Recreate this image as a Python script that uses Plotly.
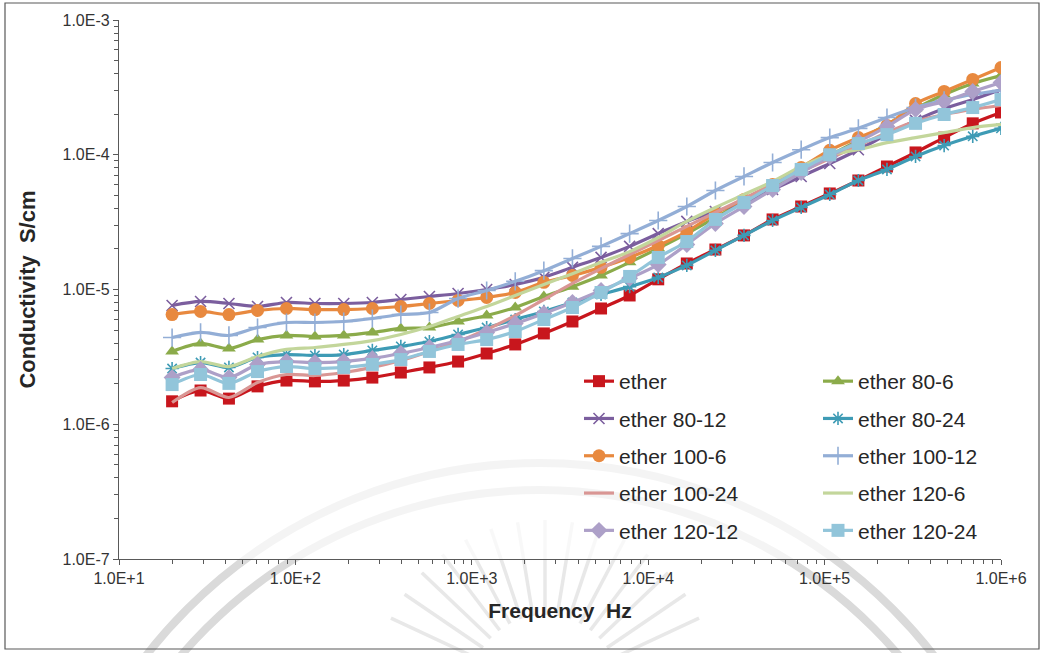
import math
import plotly.graph_objects as go

# Measurement frequencies (Hz), logarithmic sweep
freq = [20, 29, 42, 61, 89, 129, 188, 273, 396, 575, 836, 1214, 1763, 2561, 3720,
        5403, 7847, 11397, 16553, 24042, 34919, 50716, 73661, 106986, 155387,
        225685, 327787, 476084, 691469, 1000000]

# Conductivity (S/cm) for each sample
ether = [1.48e-6, 1.78e-6, 1.55e-6, 1.91e-6, 2.11e-6, 2.08e-6, 2.11e-6, 2.22e-6, 2.42e-6, 2.64e-6,
         2.92e-6, 3.35e-6, 3.91e-6, 4.72e-6, 5.79e-6, 7.23e-6, 9.03e-6, 1.19e-5, 1.56e-5, 1.98e-5,
         2.52e-5, 3.31e-5, 4.13e-5, 5.16e-5, 6.44e-5, 8.18e-5, 1.04e-4, 1.34e-4, 1.71e-4, 2.06e-4]
ether_80_6 = [3.47e-6, 3.98e-6, 3.65e-6, 4.25e-6, 4.56e-6, 4.48e-6, 4.56e-6, 4.80e-6, 5.14e-6, 5.22e-6,
              5.79e-6, 6.41e-6, 7.35e-6, 8.87e-6, 1.05e-5, 1.27e-5, 1.59e-5, 2.02e-5, 2.60e-5, 3.42e-5,
              4.50e-5, 5.81e-5, 7.64e-5, 9.87e-5, 1.28e-4, 1.68e-4, 2.20e-4, 2.80e-4, 3.38e-4, 3.87e-4]
ether_80_12 = [7.61e-6, 8.15e-6, 7.87e-6, 7.48e-6, 8.01e-6, 7.87e-6, 7.87e-6, 8.01e-6, 8.43e-6, 8.87e-6,
               9.34e-6, 1.00e-5, 1.09e-5, 1.23e-5, 1.46e-5, 1.73e-5, 2.09e-5, 2.60e-5, 3.20e-5, 3.79e-5,
               4.42e-5, 5.52e-5, 6.90e-5, 8.61e-5, 1.09e-4, 1.41e-4, 1.80e-4, 2.20e-4, 2.57e-4, 3.05e-4]
ether_80_24 = [2.59e-6, 2.87e-6, 2.64e-6, 3.13e-6, 3.29e-6, 3.24e-6, 3.29e-6, 3.53e-6, 3.78e-6, 4.11e-6,
               4.64e-6, 5.22e-6, 5.99e-6, 6.87e-6, 8.01e-6, 9.18e-6, 1.05e-5, 1.23e-5, 1.51e-5, 1.95e-5,
               2.52e-5, 3.25e-5, 4.06e-5, 5.07e-5, 6.44e-5, 7.78e-5, 9.71e-5, 1.17e-4, 1.37e-4, 1.57e-4]
ether_100_6 = [6.52e-6, 6.87e-6, 6.52e-6, 6.99e-6, 7.23e-6, 7.10e-6, 7.10e-6, 7.23e-6, 7.48e-6, 7.87e-6,
               8.29e-6, 8.72e-6, 9.50e-6, 1.13e-5, 1.27e-5, 1.46e-5, 1.73e-5, 2.12e-5, 2.69e-5, 3.66e-5,
               4.66e-5, 6.02e-5, 8.04e-5, 1.08e-4, 1.34e-4, 1.65e-4, 2.40e-4, 2.95e-4, 3.62e-4, 4.44e-4]
ether_100_12 = [4.40e-6, 4.80e-6, 4.56e-6, 5.22e-6, 5.69e-6, 5.69e-6, 5.79e-6, 6.09e-6, 6.52e-6, 6.75e-6,
                8.57e-6, 9.83e-6, 1.15e-5, 1.38e-5, 1.70e-5, 2.09e-5, 2.60e-5, 3.25e-5, 4.13e-5, 5.43e-5,
                6.90e-5, 8.76e-5, 1.09e-4, 1.34e-4, 1.57e-4, 1.89e-4, 2.24e-4, 2.53e-4, 2.80e-4, 3.00e-4]
ether_100_24 = [1.45e-6, 1.87e-6, 1.58e-6, 2.04e-6, 2.34e-6, 2.30e-6, 2.42e-6, 2.64e-6, 2.97e-6, 3.47e-6,
                4.11e-6, 5.05e-6, 6.41e-6, 8.43e-6, 1.11e-5, 1.43e-5, 1.82e-5, 2.31e-5, 2.94e-5, 3.73e-5,
                4.73e-5, 6.02e-5, 7.51e-5, 9.38e-5, 1.17e-4, 1.46e-4, 1.77e-4, 1.99e-4, 2.17e-4, 2.32e-4]
ether_120_6 = [2.59e-6, 2.92e-6, 2.68e-6, 3.18e-6, 3.59e-6, 3.71e-6, 3.91e-6, 4.18e-6, 4.64e-6, 5.31e-6,
               6.31e-6, 7.48e-6, 9.03e-6, 1.09e-5, 1.31e-5, 1.59e-5, 1.91e-5, 2.43e-5, 3.20e-5, 4.06e-5,
               5.07e-5, 6.33e-5, 8.18e-5, 1.00e-4, 1.09e-4, 1.23e-4, 1.34e-4, 1.46e-4, 1.59e-4, 1.68e-4]
ether_120_12 = [2.22e-6, 2.55e-6, 2.22e-6, 2.78e-6, 2.92e-6, 2.87e-6, 2.92e-6, 3.08e-6, 3.35e-6, 3.71e-6,
                4.18e-6, 4.80e-6, 5.59e-6, 6.64e-6, 8.01e-6, 9.83e-6, 1.21e-5, 1.53e-5, 2.16e-5, 3.09e-5,
                4.13e-5, 5.52e-5, 7.38e-5, 9.71e-5, 1.25e-4, 1.62e-4, 2.17e-4, 2.49e-4, 2.95e-4, 3.44e-4]
ether_120_24 = [1.97e-6, 2.34e-6, 2.01e-6, 2.46e-6, 2.68e-6, 2.59e-6, 2.64e-6, 2.78e-6, 3.02e-6, 3.47e-6,
                3.91e-6, 4.25e-6, 4.88e-6, 5.99e-6, 7.35e-6, 9.50e-6, 1.25e-5, 1.73e-5, 2.27e-5, 3.31e-5,
                4.42e-5, 5.91e-5, 7.78e-5, 1.00e-4, 1.21e-4, 1.41e-4, 1.71e-4, 1.99e-4, 2.24e-4, 2.57e-4]

names = ["ether", "ether 80-6", "ether 80-12", "ether 80-24", "ether 100-6",
         "ether 100-12", "ether 100-24", "ether 120-6", "ether 120-12", "ether 120-24"]
values = [ether, ether_80_6, ether_80_12, ether_80_24, ether_100_6,
          ether_100_12, ether_100_24, ether_120_6, ether_120_12, ether_120_24]

x_tick_vals = [1e1, 1e2, 1e3, 1e4, 1e5, 1e6]
x_tick_text = ["1.0E+1", "1.0E+2", "1.0E+3", "1.0E+4", "1.0E+5", "1.0E+6"]
y_tick_vals = [1e-7, 1e-6, 1e-5, 1e-4, 1e-3]
y_tick_text = ["1.0E-7", "1.0E-6", "1.0E-5", "1.0E-4", "1.0E-3"]

# Series styling: colour, marker symbol, marker size, whether markers are shown
styles = [
    ("#C8161D", "square", 12, True),
    ("#8BAB4A", "triangle-up", 12, True),
    ("#7B5E9E", "x-thin", 11, True),
    ("#3E9BB5", "asterisk", 11, True),
    ("#E8893F", "circle", 13, True),
    ("#93AED6", "cross-thin", 13, True),
    ("#D99694", "circle", 1, False),
    ("#C3D69B", "circle", 1, False),
    ("#ADA0C8", "diamond", 13, True),
    ("#92C5DA", "square", 13, True),
]

FONT = "Liberation Sans, Arial, sans-serif"

# Page geometry (px) used to place the decorative background in paper units
W, H = 1043, 653
ML, MR, MT, MB = 119, 42, 20, 94
PW, PH = W - ML - MR, H - MT - MB


def px_x(px):
    return (px - ML) / PW


def px_y(py):
    return (H - MB - py) / PH


fig = go.Figure()
for i, (name, vals, (color, symbol, size, show_marker)) in enumerate(zip(names, values, styles)):
    thin = symbol in ("x-thin", "cross-thin", "asterisk")
    fig.add_trace(go.Scatter(
        x=freq, y=vals, name=name,
        mode="lines+markers" if show_marker else "lines",
        line=dict(color=color, width=3.2, shape="spline", smoothing=0.8),
        marker=dict(symbol=symbol, size=size, color=color,
                    line=dict(color=color, width=1.6 if thin else 0)),
        legend="legend" if i % 2 == 0 else "legend2",
        legendgroup=name,
    ))

minor_x = [m * 10 ** e for e in range(1, 6) for m in range(2, 10)]
minor_y = [m * 10 ** e for e in range(-7, -3) for m in range(2, 10)]

# Faint seal watermark in the page background: a double ring and a fan of rays
shapes = []
cx, cy = 540, 962
for r in (499, 472):
    shapes.append(dict(type="circle", xref="paper", yref="paper",
                       x0=px_x(cx - r), x1=px_x(cx + r), y0=px_y(cy + r), y1=px_y(cy - r),
                       line=dict(color="#dadada", width=8), layer="below"))
rcx, rcy = 545, 690
for k in range(15):
    a = math.radians(25 + k * 130 / 14)
    r0, r1 = 75, 170
    shapes.append(dict(type="line", xref="paper", yref="paper",
                       x0=px_x(rcx - r0 * math.cos(a)), y0=px_y(rcy - r0 * math.sin(a)),
                       x1=px_x(rcx - r1 * math.cos(a)), y1=px_y(rcy - r1 * math.sin(a)),
                       line=dict(color="#e8e8e8", width=3.5), layer="below"))
# Veil over the plotting area keeps the watermark lighter there
shapes.append(dict(type="rect", xref="paper", yref="paper", x0=0, x1=1, y0=0, y1=1,
                   fillcolor="rgba(255,255,255,0.7)", line=dict(width=0), layer="below"))
# Outer chart border
shapes.append(dict(type="rect", xref="paper", yref="paper",
                   x0=px_x(5), x1=px_x(1039), y0=px_y(649), y1=px_y(3),
                   line=dict(color="#595959", width=1.2), layer="below"))

axis_color = "#595959"
tick_font = dict(family=FONT, size=16, color="#333333")

legend_common = dict(
    xanchor="left", yanchor="top",
    font=dict(family=FONT, size=21, color="#262626"),
    bgcolor="rgba(0,0,0,0)", borderwidth=0,
    tracegroupgap=7, itemwidth=30,
)

fig.update_layout(
    width=W, height=H,
    margin=dict(l=ML, r=MR, t=MT, b=MB),
    paper_bgcolor="white", plot_bgcolor="white",
    font=dict(family=FONT, color="#333333"),
    xaxis=dict(
        type="log", range=[1, 6],
        tickmode="array", tickvals=x_tick_vals, ticktext=x_tick_text,
        ticks="outside", ticklen=5, tickwidth=1, tickcolor=axis_color,
        minor=dict(tickvals=minor_x, ticks="outside", ticklen=4, tickcolor=axis_color, showgrid=False),
        showline=True, linecolor=axis_color, linewidth=1.3,
        showgrid=False, zeroline=False, tickfont=tick_font,
        title=dict(text="<b>Frequency  Hz</b>", font=dict(family=FONT, size=21, color="#262626"),
                   standoff=16),
    ),
    yaxis=dict(
        type="log", range=[-7, -3],
        tickmode="array", tickvals=y_tick_vals, ticktext=y_tick_text,
        ticks="outside", ticklen=5, tickwidth=1, tickcolor=axis_color,
        minor=dict(tickvals=minor_y, ticks="outside", ticklen=4, tickcolor=axis_color, showgrid=False),
        showline=True, linecolor=axis_color, linewidth=1.3,
        showgrid=False, zeroline=False, tickfont=tick_font,
        title=dict(text="<b>Conductivity  S/cm</b>", font=dict(family=FONT, size=22, color="#262626"),
                   standoff=20),
    ),
    legend=dict(x=px_x(579), y=px_y(361), **legend_common),
    legend2=dict(x=px_x(818), y=px_y(361), **legend_common),
    shapes=shapes,
)

fig.write_html("out.html")
